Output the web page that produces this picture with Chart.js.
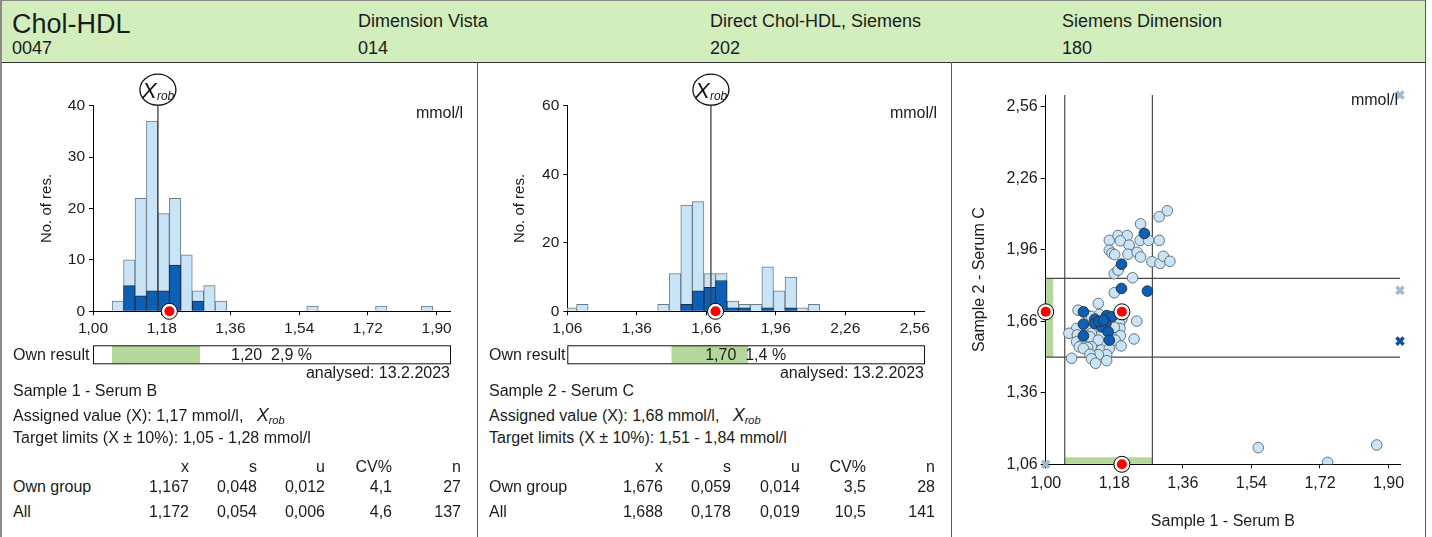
<!DOCTYPE html>
<html>
<head>
<meta charset="utf-8">
<title>Chol-HDL</title>
<script src="https://cdn.jsdelivr.net/npm/chart.js@4.4.1/dist/chart.umd.min.js"></script>
<style>
  html, body { margin: 0; padding: 0; background: #fff; }
  body { width: 1432px; height: 537px; position: relative; overflow: hidden;
         font-family: "Liberation Sans", Arial, sans-serif; color: #1b1b1b; }
  #head { position: absolute; left: 0; top: 0; width: 1423px; height: 61px; background: #d2eebd;
          border-top: 1px solid #8a8a8a; border-left: 2px solid #8a8a8a;
          border-right: 1px solid #555; border-bottom: 1px solid #333; }
  .t { position: absolute; white-space: nowrap; font-size: 16px; line-height: 18px; }
  .h { font-size: 18px; line-height: 20px; }
  .big { font-size: 27px; line-height: 30px; }
  .vline { position: absolute; top: 62px; height: 475px; width: 1px; background: #555; }
  canvas { position: absolute; }
  .xr { font-style: italic; font-size: 18px; }
  .xr sub { font-size: 11px; vertical-align: -3px; }
</style>
</head>
<body>
<div id="head">
  <div class="t big" style="left:10px;top:8px">Chol-HDL</div>
  <div class="t h" style="left:10px;top:37px">0047</div>
  <div class="t h" style="left:356px;top:10px">Dimension Vista</div>
  <div class="t h" style="left:356px;top:37px">014</div>
  <div class="t h" style="left:708px;top:10px">Direct Chol-HDL, Siemens</div>
  <div class="t h" style="left:708px;top:37px">202</div>
  <div class="t h" style="left:1060px;top:10px">Siemens Dimension</div>
  <div class="t h" style="left:1060px;top:37px">180</div>
</div>
<div class="vline" style="left:0;width:2px;background:#8a8a8a"></div>
<div class="vline" style="left:477px"></div>
<div class="vline" style="left:951px"></div>
<div class="vline" style="left:1425px"></div>

<canvas id="hist1" width="476" height="310" style="left:0;top:62px"></canvas>
<canvas id="hist2" width="472" height="310" style="left:478px;top:62px"></canvas>
<canvas id="scatter" width="473" height="475" style="left:952px;top:62px"></canvas>

<script>
// ---- sample 1 (Serum B) ----
const binWidth1 = 0.03;
const binStart1 = [1.05, 1.08, 1.11, 1.14, 1.17, 1.20, 1.23, 1.26, 1.29, 1.32, 1.56, 1.74, 1.86];
const allCount1 = [2, 10, 22, 37, 19, 22, 11, 4, 5, 2, 1, 1, 1];
const ownCount1 = [0, 5, 3, 4, 4, 9, 0, 2, 0, 0, 0, 0, 0];
const xTicks1 = [1.00, 1.18, 1.36, 1.54, 1.72, 1.90];
const yTicks1 = [0, 10, 20, 30, 40];
const assigned1 = 1.17;
const ownValue1 = 1.20;
const ownDev1 = '2,9 %';
const limits1 = [1.05, 1.28];
const ownGroupStats1 = ['1,167', '0,048', '0,012', '4,1', '27'];
const allStats1 = ['1,172', '0,054', '0,006', '4,6', '137'];

// ---- sample 2 (Serum C) ----
const binWidth2 = 0.05;
const binStart2 = [1.05, 1.10, 1.45, 1.50, 1.55, 1.60, 1.65, 1.70, 1.75, 1.80, 1.85, 1.90, 1.95, 2.00, 2.05, 2.10];
const allCount2 = [1, 2, 2, 11, 31, 32, 11, 11, 3, 2, 2, 13, 6, 10, 1, 2];
const ownCount2 = [0, 0, 0, 0, 2, 6, 7, 9, 1, 1, 0, 1, 0, 1, 0, 0];
const xTicks2 = [1.06, 1.36, 1.66, 1.96, 2.26, 2.56];
const yTicks2 = [0, 20, 40, 60];
const assigned2 = 1.68;
const ownValue2 = 1.70;
const ownDev2 = '1,4 %';
const limits2 = [1.51, 1.84];
const ownGroupStats2 = ['1,676', '0,059', '0,014', '3,5', '28'];
const allStats2 = ['1,688', '0,178', '0,019', '10,5', '141'];

const statHead = ['x', 's', 'u', 'CV%', 'n'];

// ---- Youden plot: [sample 1, sample 2] ----
const lightPoints = [
  [1.319, 2.124], [1.298, 2.099], [1.249, 2.069], [1.167, 2.000], [1.190, 2.020], [1.214, 2.020],
  [1.248, 2.000], [1.270, 2.000], [1.298, 2.000], [1.196, 1.998], [1.219, 1.980], [1.167, 1.958],
  [1.174, 1.946], [1.181, 1.940], [1.216, 1.942], [1.240, 1.950], [1.249, 1.930], [1.279, 1.910],
  [1.300, 1.903], [1.309, 1.933], [1.326, 1.912], [1.180, 1.860], [1.190, 1.875], [1.228, 1.843],
  [1.180, 1.780], [1.138, 1.735], [1.085, 1.707], [1.141, 1.689], [1.112, 1.683], [1.120, 1.680],
  [1.168, 1.680], [1.200, 1.670], [1.188, 1.665], [1.239, 1.661], [1.194, 1.650], [1.081, 1.630],
  [1.195, 1.630], [1.180, 1.635], [1.112, 1.623], [1.143, 1.609], [1.120, 1.610], [1.061, 1.610],
  [1.083, 1.603], [1.107, 1.600], [1.146, 1.600], [1.196, 1.600], [1.116, 1.595], [1.176, 1.590],
  [1.232, 1.586], [1.138, 1.581], [1.182, 1.581], [1.081, 1.574], [1.094, 1.560], [1.198, 1.557],
  [1.088, 1.553], [1.120, 1.553], [1.110, 1.550], [1.099, 1.546], [1.146, 1.540], [1.167, 1.546],
  [1.160, 1.520], [1.138, 1.520], [1.116, 1.522], [1.068, 1.505], [1.120, 1.503], [1.160, 1.495],
  [1.131, 1.484], [1.558, 1.130], [1.740, 1.068], [1.869, 1.141]
];
const ownGroupPoints = [
  [1.259, 2.029], [1.199, 1.900], [1.199, 1.798], [1.267, 1.787], [1.099, 1.700], [1.099, 1.648],
  [1.099, 1.599], [1.129, 1.669], [1.129, 1.651], [1.160, 1.684], [1.173, 1.679], [1.158, 1.651],
  [1.147, 1.637], [1.164, 1.616], [1.167, 1.581], [1.140, 1.660], [1.152, 1.665]
];
// results outside the plot, drawn at the border
const offScaleLight = [[1.93, 2.61], [1.93, 1.79], [1.00, 1.06]];
const offScaleOwn = [[1.93, 1.577]];

const FONT = '"Liberation Sans", Arial, sans-serif';
Chart.defaults.font.family = FONT;
Chart.defaults.font.size = 15;
Chart.defaults.color = '#1b1b1b';

const fmt = v => v.toFixed(2).replace('.', ',');
const pts = arr => arr.map(p => ({ x: p[0], y: p[1] }));

function ringDot(ctx, x, y) {
  ctx.beginPath();
  ctx.arc(x, y, 8, 0, Math.PI * 2);
  ctx.fillStyle = '#fff';
  ctx.fill();
  ctx.strokeStyle = '#000';
  ctx.lineWidth = 1;
  ctx.stroke();
  ctx.beginPath();
  ctx.arc(x, y, 5, 0, Math.PI * 2);
  ctx.fillStyle = '#f00';
  ctx.fill();
}

const histMarks = {
  id: 'histMarks',
  afterDatasetsDraw(chart, args, o) {
    const { ctx, chartArea: a, scales: { x } } = chart;
    const xr = x.getPixelForValue(o.assigned);
    const cy = a.top - 16;
    ctx.save();
    ctx.strokeStyle = '#3c3c3c';
    ctx.lineWidth = 1.3;
    ctx.beginPath();
    ctx.moveTo(xr, cy + 15);
    ctx.lineTo(xr, a.bottom);
    ctx.stroke();
    ctx.beginPath();
    ctx.ellipse(xr, cy, 18, 15.5, 0, 0, Math.PI * 2);
    ctx.fillStyle = '#fff';
    ctx.fill();
    ctx.strokeStyle = '#111';
    ctx.lineWidth = 1.3;
    ctx.stroke();
    ctx.fillStyle = '#111';
    ctx.font = 'italic 22px ' + FONT;
    ctx.fillText('X', xr - 16, cy + 8);
    ctx.font = 'italic 12px ' + FONT;
    ctx.fillText('rob', xr - 1, cy + 10);
    ctx.restore();
  },
  afterDraw(chart, args, o) {
    const { ctx, chartArea: a, scales: { x } } = chart;
    ctx.save();
    ringDot(ctx, x.getPixelForValue(o.own), a.bottom);
    // own result strip under the axis
    const top = a.bottom + 34, h = 18;
    const g0 = Math.max(x.left, x.getPixelForValue(o.limits[0]));
    const g1 = Math.min(x.right, x.getPixelForValue(o.limits[1]));
    ctx.fillStyle = '#b5d79b';
    ctx.fillRect(g0, top, g1 - g0, h);
    ctx.strokeStyle = '#111';
    ctx.lineWidth = 1;
    ctx.strokeRect(x.left + 0.5, top + 0.5, x.right - x.left, h);
    ctx.fillStyle = '#1b1b1b';
    ctx.font = '16px ' + FONT;
    ctx.textAlign = 'center';
    ctx.textBaseline = 'middle';
    ctx.fillText(fmt(o.own) + '  ' + o.dev, (x.left + x.right) / 2, top + h / 2 + 1);
    ctx.restore();
  }
};

function makeHist(id, s) {
  const all = s.bins.map((b, i) => ({ x: b + s.width / 2, y: s.all[i] }));
  const own = s.bins.map((b, i) => ({ x: b + s.width / 2, y: s.own[i] })).filter(p => p.y > 0);
  const barOpts = { grouped: false, barPercentage: 1, categoryPercentage: 1, borderWidth: 1, clip: 0 };
  return new Chart(document.getElementById(id), {
    type: 'bar',
    data: {
      datasets: [
        Object.assign({ data: own, backgroundColor: '#0b5fb4', borderColor: '#1d2f47' }, barOpts),
        Object.assign({ data: all, backgroundColor: '#c8e4f6', borderColor: '#6d7c87' }, barOpts)
      ]
    },
    options: {
      responsive: false,
      animation: false,
      layout: { padding: { left: 0, right: s.padRight, top: 43.7, bottom: 32.7 } },
      plugins: {
        legend: { display: false },
        tooltip: { enabled: false },
        histMarks: { assigned: s.assigned, own: s.ownValue, dev: s.dev, limits: s.limits }
      },
      scales: {
        x: {
          type: 'linear',
          min: s.xMin,
          max: s.xMax,
          offset: false,
          z: 1,
          grid: { offset: false, drawOnChartArea: false, tickLength: 4, color: '#000' },
          border: { color: '#000' },
          ticks: { padding: 4, font: { size: 15.5 }, callback: v => fmt(v) },
          afterBuildTicks: sc => { sc.ticks = s.xTicks.map(v => ({ value: v })); },
          afterFit: sc => { sc.height = 28; }
        },
        y: {
          min: 0,
          max: s.yTicks[s.yTicks.length - 1],
          grid: { drawOnChartArea: false, tickLength: 4, color: '#000' },
          border: { color: '#000' },
          ticks: { padding: 4, font: { size: 15.5 } },
          afterBuildTicks: sc => { sc.ticks = s.yTicks.map(v => ({ value: v })); },
          title: { display: true, text: 'No. of res.', font: { size: 15 }, padding: { top: s.titlePad, bottom: 0 } },
          afterFit: sc => { sc.width = s.axisLeft; }
        }
      }
    },
    plugins: [histMarks]
  });
}

makeHist('hist1', {
  bins: binStart1, width: binWidth1, all: allCount1, own: ownCount1,
  xTicks: xTicks1, yTicks: yTicks1, xMin: 1.00, xMax: 1.935,
  assigned: assigned1, ownValue: ownValue1, dev: ownDev1, limits: limits1,
  axisLeft: 93, padRight: 26, titlePad: 37.7
});
makeHist('hist2', {
  bins: binStart2, width: binWidth2, all: allCount2, own: ownCount2,
  xTicks: xTicks2, yTicks: yTicks2, xMin: 1.06, xMax: 2.60,
  assigned: assigned2, ownValue: ownValue2, dev: ownDev2, limits: limits2,
  axisLeft: 89.3, padRight: 26, titlePad: 32.7
});

const limitLines = {
  id: 'limitLines',
  beforeDatasetsDraw(chart, args, o) {
    const { ctx, chartArea: a, scales: { x, y } } = chart;
    const xl = x.getPixelForValue(o.x[0]), xh = x.getPixelForValue(o.x[1]);
    const yl = y.getPixelForValue(o.y[0]), yh = y.getPixelForValue(o.y[1]);
    ctx.save();
    ctx.fillStyle = '#b5d79b';
    ctx.fillRect(xl, a.bottom - 7, xh - xl, 6.5);
    ctx.fillRect(a.left + 0.5, yh, 7, yl - yh);
    ctx.strokeStyle = '#4a4a4a';
    ctx.lineWidth = 1.2;
    ctx.beginPath();
    [xl, xh].forEach(px => { ctx.moveTo(px, a.top); ctx.lineTo(px, a.bottom); });
    [yl, yh].forEach(py => { ctx.moveTo(a.left, py); ctx.lineTo(a.right, py); });
    ctx.stroke();
    ctx.restore();
  }
};

const yTicksS = [1.06, 1.36, 1.66, 1.96, 2.26, 2.56];
const ownPts = [
  { x: ownValue1, y: ownValue2 },
  { x: ownValue1, y: 1.06 },
  { x: 1.00, y: ownValue2 }
];

new Chart(document.getElementById('scatter'), {
  type: 'scatter',
  data: {
    datasets: [
      { data: ownPts, pointRadius: 5, backgroundColor: '#f00', borderWidth: 0, clip: false },
      { data: ownPts, pointRadius: 8, backgroundColor: '#fff', borderColor: '#000', borderWidth: 1, clip: false },
      { data: pts(ownGroupPoints), pointRadius: 5.3, backgroundColor: '#0b5fb4', borderColor: '#24354c', borderWidth: 1 },
      { data: pts(lightPoints), pointRadius: 5.3, backgroundColor: '#c8e4f6', borderColor: '#65737d', borderWidth: 1 },
      { data: pts(offScaleLight), pointStyle: 'crossRot', pointRadius: 5, borderColor: '#9fbbcd', borderWidth: 3.5, clip: false },
      { data: pts(offScaleOwn), pointStyle: 'crossRot', pointRadius: 5, borderColor: '#0d4f9c', borderWidth: 3.5, clip: false }
    ]
  },
  options: {
    responsive: false,
    animation: false,
    layout: { padding: { left: 0, right: 25, top: 33, bottom: 0 } },
    plugins: {
      legend: { display: false },
      tooltip: { enabled: false },
      limitLines: { x: limits1, y: limits2 }
    },
    scales: {
      x: {
        type: 'linear',
        min: 1.00,
        max: 1.93,
        grid: { drawOnChartArea: false, tickLength: 4, color: '#000' },
        border: { color: '#000' },
        ticks: { padding: 6, font: { size: 16 }, callback: v => fmt(v) },
        afterBuildTicks: sc => { sc.ticks = xTicks1.map(v => ({ value: v })); },
        title: { display: true, text: 'Sample 1 - Serum B', font: { size: 16 }, padding: { top: 0, bottom: 5.4 } },
        afterFit: sc => { sc.height = 72.7; }
      },
      y: {
        min: 1.06,
        max: 2.61,
        grid: { drawOnChartArea: false, tickLength: 5, color: '#000' },
        border: { color: '#000' },
        ticks: { padding: 3, font: { size: 16 }, callback: v => fmt(v) },
        afterBuildTicks: sc => { sc.ticks = yTicksS.map(v => ({ value: v })); },
        title: { display: true, text: 'Sample 2 - Serum C', font: { size: 16 }, padding: { top: 18.4, bottom: 0 } },
        afterFit: sc => { sc.width = 93.7; }
      }
    }
  },
  plugins: [limitLines]
});

// ---- text below the histograms ----
function addText(html, left, cy, cls, alignRight) {
  const d = document.createElement('div');
  d.className = 't' + (cls ? ' ' + cls : '');
  d.innerHTML = html;
  d.style.top = (cy - 9) + 'px';
  if (alignRight) {
    d.style.right = (1432 - left) + 'px';
  } else {
    d.style.left = left + 'px';
  }
  document.body.appendChild(d);
}

function panelText(p) {
  addText('mmol/l', p.unitRight, 113, '', true);
  addText('Own result', p.left, 355);
  addText('analysed: 13.2.2023', p.boxRight, 373, '', true);
  addText(p.sample, p.left, 391);
  addText('Assigned value (X): ' + fmt(p.assigned) + ' mmol/l,&nbsp;&nbsp;&nbsp;<span class="xr">X<sub>rob</sub></span>', p.left, 415);
  addText('Target limits (X \u00b1 10%): ' + fmt(p.limits[0]) + ' - ' + fmt(p.limits[1]) + ' mmol/l', p.left, 438);
  addText('Own group', p.left, 487);
  addText('All', p.left, 512);
  statHead.forEach((h, i) => {
    addText(h, p.cols[i], 467, '', true);
    addText(p.own[i], p.cols[i], 487, '', true);
    addText(p.all[i], p.cols[i], 512, '', true);
  });
}

panelText({
  left: 13, unitRight: 463, boxRight: 450, sample: 'Sample 1 - Serum B',
  assigned: assigned1, limits: limits1, own: ownGroupStats1, all: allStats1,
  cols: [189, 257, 325, 392, 461]
});
panelText({
  left: 489, unitRight: 937, boxRight: 924, sample: 'Sample 2 - Serum C',
  assigned: assigned2, limits: limits2, own: ownGroupStats2, all: allStats2,
  cols: [663, 731, 800, 866, 935]
});
addText('mmol/l', 1398, 100, '', true);
</script>
</body>
</html>
